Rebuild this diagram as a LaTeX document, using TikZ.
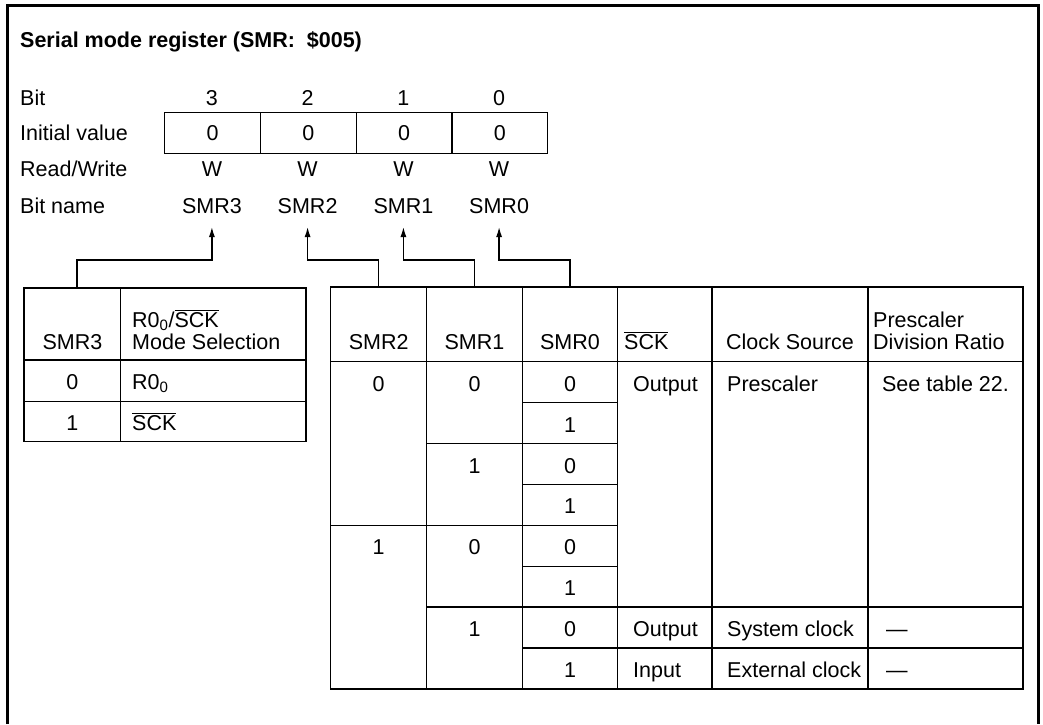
\documentclass[tikz,border=0pt]{standalone}
\usepackage{fontspec}
\setmainfont{Liberation Sans}
\usetikzlibrary{arrows.meta}
\newcommand{\ovl}[1]{$\overline{\mbox{#1}}$}
\begin{document}
\begin{tikzpicture}[x=1pt,y=-1pt,
  every node/.style={inner sep=0pt, font=\fontsize{21.5}{24}\selectfont},
  rule/.style={line width=1.3pt},
  frame/.style={line width=2.6pt},
  regcell/.style={draw, line width=1.3pt, minimum width=95.75pt, minimum height=41pt, anchor=north west},
  arr/.style={line width=1.3pt, -{Latex[length=10pt,width=6pt]}},
  lbl/.style={anchor=base west},
  val/.style={anchor=base},
]
\useasboundingbox (0,0) rectangle (1043,724);

% outer frame, open at the bottom
\draw[frame] (7.5,724) -- (7.5,5.5) -- (1038.5,5.5) -- (1038.5,724);

% title and row labels
\node[lbl, font=\fontsize{21.5}{24}\selectfont\bfseries] (title) at (20,47) {Serial mode register (SMR:\ \ \$005)};
\node[lbl] (lbit)  at (20,105) {Bit};
\node[lbl] (linit) at (20,140) {Initial value};
\node[lbl] (lrw)   at (20,176) {Read/Write};
\node[lbl] (lname) at (20,213) {Bit name};

% register cells
\node[regcell] (b3) at (164,112)    {0};
\node[regcell] (b2) at (259.75,112) {0};
\node[regcell] (b1) at (355.5,112)  {0};
\node[regcell] (b0) at (451.25,112) {0};

\node[val] (p3) at (211.9,105) {3};
\node[val] (p2) at (307.6,105) {2};
\node[val] (p1) at (403.4,105) {1};
\node[val] (p0) at (499.1,105) {0};

\node[val] (w3) at (211.9,176) {W};
\node[val] (w2) at (307.6,176) {W};
\node[val] (w1) at (403.4,176) {W};
\node[val] (w0) at (499.1,176) {W};

\node[val] (n3) at (211.9,213) {SMR3};
\node[val] (n2) at (307.6,213) {SMR2};
\node[val] (n1) at (403.4,213) {SMR1};
\node[val] (n0) at (499.1,213) {SMR0};

% arrow tips and connector feet
\coordinate (tip3) at (211.9,227);
\coordinate (tip2) at (307.6,227);
\coordinate (tip1) at (403.4,227);
\coordinate (tip0) at (499.1,227);
\coordinate (hy) at (0,260);
\coordinate (f3) at (77,288);
\coordinate (f2) at (378.7,287);
\coordinate (f1) at (474.5,287);
\coordinate (f0) at (570,287);

\draw[arr] (f3) -- (f3 |- hy) -| (tip3);
\draw[arr] (f2) -- (f2 |- hy) -| (tip2);
\draw[arr] (f1) -- (f1 |- hy) -| (tip1);
\draw[arr] (f0) -- (f0 |- hy) -| (tip0);

% SMR3 table
\draw[rule] (24,288) rectangle (306,441.7);
\draw[rule] (120.7,288) -- (120.7,441.7);
\draw[rule] (24,360) -- (306,360);
\draw[rule] (24,401.7) -- (306,401.7);

\node[val] (ha) at (72.4,349) {SMR3};
\node[lbl] (hb1) at (132,327) {R0\textsubscript{0}/\ovl{SCK}};
\node[lbl] (hb2) at (132,349) {Mode Selection};
\node[val] (a1) at (72.4,389.5) {0};
\node[lbl] (m1) at (132,389.5) {R0\textsubscript{0}};
\node[val] (a2) at (72.4,430) {1};
\node[lbl] (m2) at (132,430) {\ovl{SCK}};

% SMR2..SMR0 table: grid
\draw[rule] (330.7,287) rectangle (1023,688.9);
\foreach \x in {426.7,522.3,617.7,712,868}
  \draw[rule] (\x,287) -- (\x,688.9);
\draw[rule] (330.7,361.7) -- (1023,361.7);
\draw[rule] (522.3,402.6) -- (617.7,402.6);
\draw[rule] (426.7,443.5) -- (617.7,443.5);
\draw[rule] (522.3,484.4) -- (617.7,484.4);
\draw[rule] (330.7,525.3) -- (617.7,525.3);
\draw[rule] (522.3,566.2) -- (617.7,566.2);
\draw[rule] (426.7,607.1) -- (1023,607.1);
\draw[rule] (522.3,648.0) -- (1023,648.0);

% header
\node[val] (h2) at (378.7,349) {SMR2};
\node[val] (h1) at (474.5,349) {SMR1};
\node[val] (h0) at (570,349) {SMR0};
\node[lbl] (hs) at (624,349) {\ovl{SCK}};
\node[val] (hc) at (790,349) {Clock Source};
\node[lbl] (hp1) at (873,327) {Prescaler};
\node[lbl] (hp2) at (873,349) {Division Ratio};

% body rows
\node[val] (r1a) at (378.7,391.2) {0};
\node[val] (r1b) at (474.5,391.2) {0};
\node[val] (r1c) at (570,391.2) {0};
\node[lbl] (r1d) at (633,391.2) {Output};
\node[lbl] (r1e) at (727,391.2) {Prescaler};
\node[val] (r1f) at (945.5,391.2) {See table 22.};

\node[val] (r2c) at (570,432.1) {1};

\node[val] (r3b) at (474.5,473.0) {1};
\node[val] (r3c) at (570,473.0) {0};

\node[val] (r4c) at (570,513.9) {1};

\node[val] (r5a) at (378.7,554.8) {1};
\node[val] (r5b) at (474.5,554.8) {0};
\node[val] (r5c) at (570,554.8) {0};

\node[val] (r6c) at (570,595.7) {1};

\node[val] (r7b) at (474.5,636.6) {1};
\node[val] (r7c) at (570,636.6) {0};
\node[lbl] (r7d) at (633,636.6) {Output};
\node[lbl] (r7e) at (727,636.6) {System clock};
\node[lbl] (r7f) at (886,636.6) {---};

\node[val] (r8c) at (570,677.5) {1};
\node[lbl] (r8d) at (633,677.5) {Input};
\node[lbl] (r8e) at (727,677.5) {External clock};
\node[lbl] (r8f) at (886,677.5) {---};
\end{tikzpicture}
\end{document}
